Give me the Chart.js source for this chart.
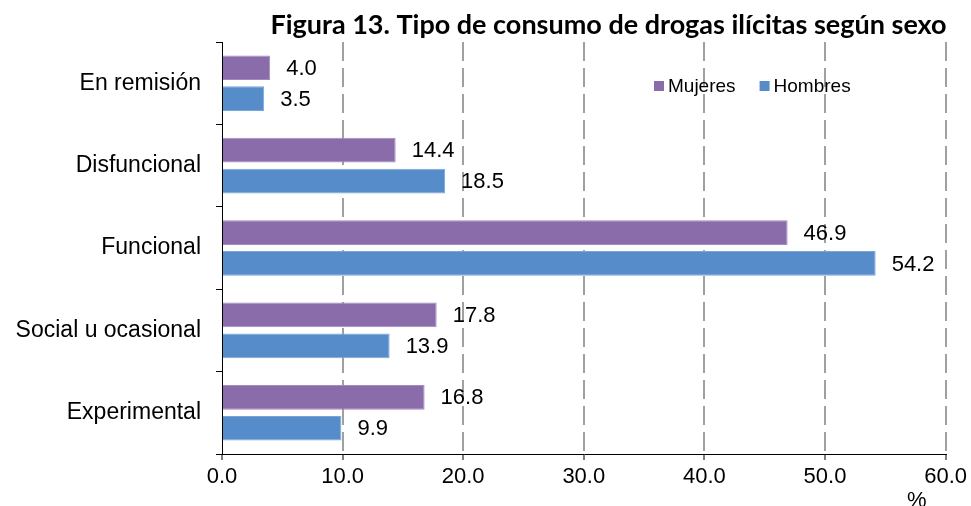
<!DOCTYPE html>
<html>
<head>
<meta charset="utf-8">
<script src="https://cdn.jsdelivr.net/npm/chart.js@4.4.0/dist/chart.umd.min.js"></script>
<style>
html, body { margin: 0; padding: 0; background: #fff; }
</style>
</head>
<body>
<canvas id="chart" width="971" height="506"></canvas>
<script>
const categories = ["En remisión", "Disfuncional", "Funcional", "Social u ocasional", "Experimental"];
const seriesNames = ["Mujeres", "Hombres"];
const mujeres = [4.0, 14.4, 46.9, 17.8, 16.8];
const hombres = [3.5, 18.5, 54.2, 13.9, 9.9];
const xTicks = [0, 10, 20, 30, 40, 50, 60];
const titleText = "Figura 13. Tipo de consumo de drogas ilícitas según sexo";
const unitText = "%";

const purple = "#8b6caa";
const blue = "#578ccb";
const arial = "'Liberation Sans', Arial, sans-serif";

// value labels to the right of each bar
const valueLabels = {
  id: "valueLabels",
  afterDatasetsDraw(chart) {
    const ctx = chart.ctx;
    ctx.save();
    ctx.font = "22px " + arial;
    ctx.fillStyle = "#000";
    ctx.textAlign = "left";
    ctx.textBaseline = "middle";
    chart.data.datasets.forEach((ds, i) => {
      chart.getDatasetMeta(i).data.forEach((bar, j) => {
        ctx.fillText(ds.data[j].toFixed(1), bar.x + 16, bar.y + 1);
      });
    });
    ctx.restore();
  }
};

// title, legend inside the plot and the % unit
const extras = {
  id: "extras",
  afterDraw(chart) {
    const ctx = chart.ctx;
    const area = chart.chartArea;
    ctx.save();
    ctx.fillStyle = "#000";
    ctx.font = "bold 27px Lato, sans-serif";
    ctx.textAlign = "right";
    ctx.textBaseline = "alphabetic";
    ctx.fillText(titleText, area.right + 1, 34);

    let x = 654;
    ctx.font = "19px " + arial;
    ctx.textAlign = "left";
    chart.data.datasets.forEach(ds => {
      ctx.fillStyle = ds.backgroundColor;
      ctx.fillRect(x, 81, 10, 10);
      ctx.fillStyle = "#000";
      ctx.fillText(ds.label, x + 14, 92);
      x += 14 + ctx.measureText(ds.label).width + 24;
    });

    ctx.font = "22px " + arial;
    ctx.fillText(unitText, 907, 507);
    ctx.restore();
  }
};

new Chart(document.getElementById("chart"), {
  type: "bar",
  data: {
    labels: categories,
    datasets: [
      {
        label: seriesNames[0],
        data: mujeres,
        backgroundColor: purple,
        borderColor: "#a08cbe",
        borderWidth: 1,
        categoryPercentage: 0.75,
        barPercentage: 0.8
      },
      {
        label: seriesNames[1],
        data: hombres,
        backgroundColor: blue,
        borderColor: "#7ba5da",
        borderWidth: 1,
        categoryPercentage: 0.75,
        barPercentage: 0.8
      }
    ]
  },
  options: {
    indexAxis: "y",
    responsive: false,
    animation: false,
    layout: { padding: { top: 42, right: 24, left: 0, bottom: 0 } },
    plugins: {
      legend: { display: false },
      title: { display: false },
      tooltip: { enabled: false }
    },
    scales: {
      x: {
        min: 0,
        max: 60,
        afterBuildTicks(scale) { scale.ticks = xTicks.map(v => ({ value: v })); },
        afterFit(scale) { scale.height = 52; },
        grid: {
          color: c => (c.tick && c.tick.value === 0 ? "rgba(0,0,0,0)" : "#a0a0a0"),
          lineWidth: 2,
          tickColor: "#000",
          tickWidth: 1,
          tickLength: 6
        },
        border: { color: "#000", width: 1, dash: [19, 7] },
        ticks: {
          color: "#000",
          font: { family: arial, size: 22 },
          padding: 4,
          maxRotation: 0,
          autoSkip: false,
          callback: v => Number(v).toFixed(1)
        }
      },
      y: {
        afterFit(scale) { scale.width = 222; },
        grid: {
          drawOnChartArea: false,
          color: "#000",
          tickColor: "#000",
          lineWidth: 1,
          tickLength: 6
        },
        border: { color: "#000", width: 1 },
        ticks: {
          color: "#000",
          font: { family: arial, size: 23 },
          padding: 15
        }
      }
    }
  },
  plugins: [valueLabels, extras]
});
</script>
</body>
</html>
